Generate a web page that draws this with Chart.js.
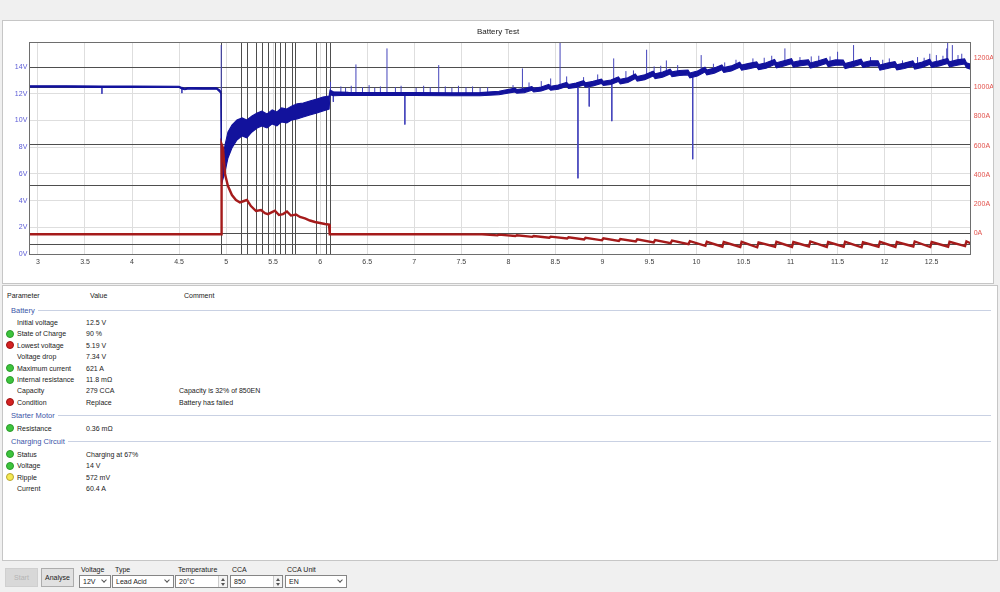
<!DOCTYPE html>
<html>
<head>
<meta charset="utf-8">
<title>Battery Test</title>
<script src="https://cdn.jsdelivr.net/npm/chart.js@4.4.1/dist/chart.umd.min.js"></script>
<style>
  body { margin: 0; width: 1000px; height: 592px; background: #f0f0f0; overflow: hidden; position: relative;
         font-family: "Liberation Sans", Arial, sans-serif; color: #222; }
  #plotPanel { position: absolute; left: 2px; top: 20px; width: 990px; height: 262px; background: #fff; border: 1px solid #c6c6c6; }
  #plotBox { position: absolute; left: 0; top: 0; width: 990px; height: 262px; }
  #results { position: absolute; left: 2px; top: 285px; width: 994px; height: 274px; background: #fff; border: 1px solid #c6c6c6; font-size: 7px; }
  .t { position: absolute; white-space: nowrap; line-height: 9px; }
  .sec { position: absolute; left: 8px; right: 6px; display: flex; align-items: center; color: #3a55a8; font-size: 7.5px; line-height: 9px; }
  .sec span.line { flex: 1; height: 1px; background: #c9d1e3; margin-left: 3px; }
  .dot { position: absolute; width: 6px; height: 6px; border-radius: 50%; }
  .dot.ok { background: #3dc43d; border: 1px solid #2b9a2b; }
  .dot.bad { background: #d42222; border: 1px solid #9e1212; }
  .dot.warn { background: #f4e852; border: 1px solid #b6a632; }
  .bar { position: absolute; font-size: 7px; line-height: 9px; white-space: nowrap; }
  .btn { position: absolute; top: 568px; height: 17px; border: 1px solid #adadad; background: #e1e1e1; font-size: 7px;
         line-height: 17px; text-align: center; }
  .btn.off { background: #d8d8d8; border-color: #cfcfcf; color: #b4b4b4; }
  .box { position: absolute; top: 575px; height: 11px; border: 1px solid #858585; background: #fff; font-size: 7px; line-height: 11px;
         padding-left: 3px; box-sizing: content-box; }
  .box .arr { position: absolute; right: 4px; top: 2px; width: 3px; height: 3px; border-right: 1px solid #555; border-bottom: 1px solid #555; transform: rotate(45deg); }
  .box .spin { position: absolute; right: 0; top: 0; width: 8px; height: 11px; border-left: 1px solid #ccc; background: #f4f4f4; }
  .spin i { position: absolute; left: 2px; width: 0; height: 0; border-left: 2px solid transparent; border-right: 2px solid transparent; }
  .spin i.up { top: 1.5px; border-bottom: 3px solid #555; }
  .spin i.dn { top: 6.5px; border-top: 3px solid #555; }
</style>
</head>
<body>
<div id="plotPanel"><div id="plotBox"><canvas id="batteryChart"></canvas></div></div>
<div id="results"></div>

<div class="btn off" style="left:5px;width:31px;">Start</div>
<div class="btn" style="left:41px;width:31px;">Analyse</div>
<div class="bar" style="left:81px;top:565px;">Voltage</div>
<div class="box" style="left:79px;width:27px;">12V<span class="arr"></span></div>
<div class="bar" style="left:115px;top:565px;">Type</div>
<div class="box" style="left:112px;width:57px;">Lead Acid<span class="arr"></span></div>
<div class="bar" style="left:178px;top:565px;">Temperature</div>
<div class="box" style="left:175px;width:48px;">20°C<span class="spin"><i class="up"></i><i class="dn"></i></span></div>
<div class="bar" style="left:232px;top:565px;">CCA</div>
<div class="box" style="left:230px;width:48px;">850<span class="spin"><i class="up"></i><i class="dn"></i></span></div>
<div class="bar" style="left:287px;top:565px;">CCA Unit</div>
<div class="box" style="left:285px;width:57px;">EN<span class="arr"></span></div>

<script>
// ---- time axis (s) and tick labels ----
const xTicks = [3, 3.5, 4, 4.5, 5, 5.5, 6, 6.5, 7, 7.5, 8, 8.5, 9, 9.5, 10, 10.5, 11, 11.5, 12, 12.5];
const voltTicks = [0, 2, 4, 6, 8, 10, 12, 14];
const ampTicks = [0, 200, 400, 600, 800, 1000, 1200];

// ---- battery voltage: centre of the trace and its noise band (V) ----
const vTime = [2.91, 3.30, 3.68, 4.00, 4.50, 4.53, 4.56, 4.60, 4.75, 4.90, 4.93, 4.945,
  4.951, 4.955, 4.988, 5.020, 5.062, 5.115, 5.170, 5.220, 5.275, 5.330, 5.380, 5.435, 5.490,
  5.540, 5.590, 5.645, 5.700, 5.755, 5.820, 5.890, 5.965, 6.030, 6.095, 6.105, 6.140, 6.300,
  6.600, 7.000, 7.400, 7.700, 7.900,
  8.07, 8.09, 8.17, 8.25, 8.27, 8.35, 8.43, 8.45, 8.53, 8.62, 8.64, 8.72, 8.80, 8.82, 8.90,
  8.99, 9.01, 9.09, 9.17, 9.19, 9.27, 9.35, 9.37, 9.45, 9.54, 9.56, 9.64, 9.72, 9.74, 9.82,
  9.91, 9.93, 10.01, 10.09, 10.11, 10.19, 10.27, 10.29, 10.37, 10.46, 10.48, 10.56,
  10.64, 10.66, 10.74, 10.83, 10.85, 10.93, 11.01, 11.03, 11.11, 11.19, 11.21, 11.29,
  11.38, 11.40, 11.48, 11.56, 11.58, 11.66, 11.75, 11.77, 11.85, 11.93, 11.95, 12.03,
  12.11, 12.13, 12.21, 12.30, 12.32, 12.40, 12.48, 12.50, 12.58, 12.67, 12.69, 12.77,
  12.85, 12.87, 12.92];
const vMid = [12.55, 12.55, 12.53, 12.53, 12.52, 12.42, 12.36, 12.42, 12.40, 12.40, 12.22, 12.10,
  5.35, 6.00, 7.15, 8.17, 8.80, 9.29, 9.52, 9.37, 9.74, 10.00, 10.15, 9.97, 10.27,
  10.12, 10.42, 10.34, 10.57, 10.68, 10.79, 10.94, 11.09, 11.24, 11.35, 12.10, 12.00, 12.00,
  11.98, 11.98, 11.96, 11.97, 12.06,
  12.28, 12.18, 12.24, 12.40, 12.28, 12.36, 12.55, 12.42, 12.50, 12.70, 12.55, 12.64, 12.82, 12.66, 12.76,
  12.94, 12.78, 12.86, 13.10, 12.92, 13.02, 13.32, 13.12, 13.24, 13.52, 13.32, 13.44, 13.66, 13.46, 13.56,
  13.60, 13.38, 13.52, 13.82, 13.60, 13.74, 13.98, 13.78, 13.90, 14.18, 13.96, 14.08,
  14.20, 14.00, 14.12, 14.38, 14.14, 14.28, 14.44, 14.18, 14.30, 14.36, 14.12, 14.26,
  14.46, 14.22, 14.34, 14.34, 14.08, 14.22, 14.40, 14.16, 14.28, 14.28, 13.96, 14.10,
  14.22, 13.98, 14.10, 14.28, 14.04, 14.18, 14.40, 14.16, 14.28, 14.46, 14.20, 14.34,
  14.42, 14.14, 14.02];
const vBand = [0.10, 0.10, 0.10, 0.10, 0.10, 0.12, 0.12, 0.10, 0.10, 0.10, 0.15, 0.15,
  0.10, 1.35, 2.00, 1.95, 1.72, 1.50, 1.35, 1.35, 1.20, 1.12, 1.12, 1.05, 1.05,
  1.05, 1.05, 1.05, 1.05, 1.13, 1.05, 1.05, 1.05, 1.05, 0.98, 0.35, 0.30, 0.22,
  0.22, 0.22, 0.22, 0.24, 0.26,
  0.28, 0.28, 0.30, 0.28, 0.28, 0.30, 0.30, 0.30, 0.32, 0.30, 0.30, 0.32, 0.32, 0.32, 0.34,
  0.32, 0.32, 0.34, 0.34, 0.34, 0.36, 0.34, 0.34, 0.36, 0.36, 0.36, 0.38, 0.36, 0.36, 0.38,
  0.36, 0.36, 0.38, 0.36, 0.36, 0.38, 0.36, 0.36, 0.38, 0.38, 0.38, 0.40,
  0.38, 0.38, 0.40, 0.38, 0.38, 0.40, 0.38, 0.38, 0.40, 0.38, 0.38, 0.40,
  0.38, 0.38, 0.40, 0.38, 0.38, 0.40, 0.38, 0.38, 0.40, 0.38, 0.38, 0.40,
  0.38, 0.38, 0.40, 0.38, 0.38, 0.40, 0.38, 0.38, 0.40, 0.38, 0.38, 0.40,
  0.38, 0.38, 0.38];

// ---- single-sample voltage spikes (V) ----
const spikeTime = [3.68, 4.53, 4.948, 6.11, 6.14, 6.22, 6.27, 6.33, 6.38, 6.45, 6.52, 6.58, 6.64,
  6.71, 6.80, 6.86, 6.90, 7.02, 7.10, 7.17, 7.26, 7.33, 7.40, 7.47, 7.55, 7.62, 7.70, 7.78,
  8.05, 8.15, 8.22, 8.35, 8.45, 8.55, 8.62, 8.74, 8.80, 8.86, 8.95, 9.10, 9.12, 9.25, 9.33, 9.47,
  9.55, 9.62, 9.68, 9.80, 9.96, 10.05, 10.18, 10.30, 10.42, 10.60, 10.72, 10.80, 10.94, 11.10, 11.22, 11.30,
  11.42, 11.50, 11.67, 11.85, 11.98, 12.05, 12.19, 12.35, 12.42, 12.48, 12.55, 12.62, 12.66, 12.67,
  12.72, 12.78, 12.82];
const spikeFrom = [12.50, 12.42, 12.20, 12.10, 12.00, 12.05, 12.05, 12.05, 12.05, 12.05, 12.05, 12.05, 12.05,
  12.05, 12.05, 12.05, 11.95, 12.05, 12.05, 12.05, 12.05, 12.05, 12.05, 12.05, 12.05, 12.05, 12.05, 12.08,
  12.25, 12.30, 12.40, 12.50, 12.60, 12.70, 12.75, 12.65, 12.85, 12.70, 12.95, 12.85, 13.00, 13.10, 13.25, 13.40,
  13.45, 13.55, 13.60, 13.55, 13.40, 13.65, 13.80, 13.95, 14.05, 14.10, 14.20, 14.30, 14.30, 14.30, 14.30, 14.35,
  14.35, 14.20, 14.30, 14.30, 14.10, 14.10, 14.10, 14.20, 14.25, 14.30, 14.20, 14.30, 14.30, 14.30,
  14.30, 14.30, 14.30];
const spikeTo = [12.00, 12.05, 15.65, 12.90, 11.40, 12.55, 12.45, 12.60, 14.20, 12.50, 12.65, 12.45, 12.55,
  15.40, 12.50, 12.60, 9.70, 12.45, 12.60, 12.50, 14.15, 12.55, 12.45, 12.60, 12.50, 12.55, 12.45, 12.50,
  12.65, 13.90, 12.85, 12.95, 13.15, 15.88, 13.30, 5.67, 13.25, 11.05, 13.45, 9.95, 14.65, 13.70, 13.75, 15.30,
  14.05, 14.10, 14.50, 14.15, 7.10, 14.90, 14.25, 14.35, 14.55, 14.65, 14.70, 14.85, 15.40, 14.75, 14.80, 14.85,
  14.80, 15.15, 15.65, 14.75, 14.55, 14.65, 14.50, 14.75, 14.70, 15.00, 14.90, 14.85, 15.40, 15.88,
  15.65, 14.90, 15.00];

// ---- battery current (A) ----
const aTime = [2.91, 4.950, 4.952, 4.967, 4.988, 5.020, 5.062, 5.105, 5.147, 5.190, 5.222, 5.264,
  5.318, 5.371, 5.413, 5.445, 5.488, 5.519, 5.562, 5.605, 5.647, 5.689, 5.743, 5.785, 5.838,
  5.891, 5.945, 5.998, 6.051, 6.094, 6.102, 7.000, 7.700,
  7.72, 7.885, 7.90, 8.075, 8.09, 8.255, 8.27, 8.435, 8.45, 8.625, 8.64, 8.805, 8.82, 8.995,
  9.01, 9.175, 9.19, 9.355, 9.37, 9.545, 9.56, 9.725, 9.74, 9.915, 9.93, 10.095, 10.11, 10.275,
  10.29, 10.465, 10.48, 10.645, 10.66, 10.835, 10.85, 11.015, 11.03, 11.195, 11.21, 11.385,
  11.40, 11.565, 11.58, 11.755, 11.77, 11.935, 11.95, 12.115, 12.13, 12.305, 12.32, 12.485,
  12.50, 12.675, 12.69, 12.855, 12.87, 12.92];
const aVal = [-8, -8, 610, 584, 405, 323, 261, 227, 210, 220, 227, 185,
  151, 158, 137, 130, 144, 154, 124, 130, 148, 120, 127, 110, 100,
  86, 76, 69, 62, 58, -8, -8, -9,
  -8, -16, -11, -20, -15, -26, -20, -32, -25, -38, -29, -44, -33, -50,
  -37, -54, -41, -58, -44, -64, -48, -70, -52, -76, -56, -88, -60, -94,
  -62, -96, -60, -98, -64, -94, -60, -96, -62, -92, -58, -96,
  -62, -94, -60, -98, -64, -94, -60, -96, -62, -92, -58, -96,
  -62, -94, -60, -90, -58, -72];

// ---- cursor markers and reference levels ----
const markerTimes = [4.951, 5.155, 5.220, 5.315, 5.381, 5.447, 5.516, 5.575, 5.628, 5.700, 5.737, 5.955, 6.062, 6.104];
const levelVolts = [14, 12.5, 5.19];
const levelAmps = [612, 0, -72];

// ---- result table ----
const sectionNames = ["Battery", "Starter Motor", "Charging Circuit"];
const rowSection = [0, 0, 0, 0, 0, 0, 0, 0, 1, 2, 2, 2, 2];
const rowNames = ["Initial voltage", "State of Charge", "Lowest voltage", "Voltage drop", "Maximum current",
  "Internal resistance", "Capacity", "Condition", "Resistance", "Status", "Voltage", "Ripple", "Current"];
const rowValues = ["12.5 V", "90 %", "5.19 V", "7.34 V", "621 A", "11.8 mΩ", "279 CCA", "Replace",
  "0.36 mΩ", "Charging at 67%", "14 V", "572 mV", "60.4 A"];
const rowComments = ["", "", "", "", "", "", "Capacity is 32% of 850EN", "Battery has failed",
  "", "", "", "", ""];
const rowStatus = ["", "ok", "bad", "", "ok", "ok", "", "bad", "ok", "ok", "ok", "warn", ""];

const FONT = '"Liberation Sans", Arial, sans-serif';

function buildTable() {
  const box = document.getElementById("results");
  // header row centred ~10px below the panel top
  let html = '<div class="t" style="left:4px;top:5px;">Parameter</div>' +
    '<div class="t" style="left:87px;top:5px;">Value</div>' +
    '<div class="t" style="left:181px;top:5px;">Comment</div>';
  let y = 24; // centre of the first section line inside the panel
  let last = -1;
  rowNames.forEach((name, i) => {
    if (rowSection[i] !== last) {
      if (last !== -1) y += 13.5;
      last = rowSection[i];
      html += `<div class="sec" style="top:${y - 4.5}px;"><span>${sectionNames[last]}</span><span class="line"></span></div>`;
      y += 12.5;
    } else {
      y += 11.4;
    }
    if (rowStatus[i]) html += `<div class="dot ${rowStatus[i]}" style="left:3px;top:${y - 4}px;"></div>`;
    html += `<div class="t" style="left:14px;top:${y - 4.5}px;">${name}</div>`;
    html += `<div class="t" style="left:83px;top:${y - 4.5}px;">${rowValues[i]}</div>`;
    if (rowComments[i]) html += `<div class="t" style="left:176px;top:${y - 4.5}px;">${rowComments[i]}</div>`;
  });
  box.innerHTML = html;
}
buildTable();

// cursor lines, reference levels and the plot frame
const guides = {
  id: "guides",
  beforeDatasetsDraw(chart) {
    const { ctx, chartArea: a, scales } = chart;
    ctx.save();
    ctx.strokeStyle = "#4e4e4e";
    ctx.lineWidth = 1;
    ctx.beginPath();
    markerTimes.forEach((t) => {
      const x = Math.round(scales.x.getPixelForValue(t)) + 0.5;
      ctx.moveTo(x, a.top);
      ctx.lineTo(x, a.bottom);
    });
    const hline = (y) => {
      y = Math.round(y) + 0.5;
      ctx.moveTo(a.left, y);
      ctx.lineTo(a.right, y);
    };
    levelVolts.forEach((v) => hline(scales.yV.getPixelForValue(v)));
    levelAmps.forEach((v) => hline(scales.yA.getPixelForValue(v)));
    ctx.stroke();
    ctx.restore();
  },
  afterDraw(chart) {
    const { ctx, chartArea: a } = chart;
    ctx.save();
    ctx.strokeStyle = "#6e6e6e";
    ctx.lineWidth = 1;
    ctx.strokeRect(Math.round(a.left) + 0.5, Math.round(a.top) + 0.5, Math.round(a.right - a.left), Math.round(a.bottom - a.top));
    ctx.restore();
  },
};

const voltHigh = vTime.map((t, i) => ({ x: t, y: vMid[i] + vBand[i] / 2 }));
const voltLow = vTime.map((t, i) => ({ x: t, y: vMid[i] - vBand[i] / 2 }));
const spikePts = [];
spikeTime.forEach((t, i) => {
  spikePts.push({ x: t, y: spikeFrom[i] }, { x: t, y: spikeTo[i] }, { x: t, y: null });
});
const currentPts = aTime.map((t, i) => ({ x: t, y: aVal[i] }));

const NAVY = "#12129c";

const ctx = document.getElementById("batteryChart").getContext("2d");
window.myChart = new Chart(ctx, {
  type: "line",
  data: {
    datasets: [
      { label: "Current", data: currentPts, yAxisID: "yA", borderColor: "#a51b1b", borderWidth: 2.4, pointRadius: 0, tension: 0, fill: false },
      { label: "Voltage high", data: voltHigh, yAxisID: "yV", borderColor: NAVY, borderWidth: 1.1, pointRadius: 0, fill: false },
      { label: "Voltage low", data: voltLow, yAxisID: "yV", borderColor: NAVY, borderWidth: 1.1, pointRadius: 0, fill: "-1", backgroundColor: NAVY },
      { label: "Spikes", data: spikePts, yAxisID: "yV", borderColor: "#4444bb", borderWidth: 1, pointRadius: 0, spanGaps: false, fill: false },
    ],
  },
  options: {
    responsive: true,
    maintainAspectRatio: false,
    animation: false,
    events: [],
    layout: { padding: 0 },
    plugins: {
      legend: { display: false },
      tooltip: { enabled: false },
      title: { display: true, text: "Battery Test", color: "#222", font: { size: 8, family: FONT, weight: "normal" }, padding: { top: 6, bottom: 5.4 } },
    },
    scales: {
      x: {
        type: "linear", min: 2.908, max: 12.915,
        afterBuildTicks: (s) => { s.ticks = xTicks.map((v) => ({ value: v })); },
        afterFit: (s) => { s.height = 29; },
        grid: { color: "#dedede", drawTicks: false },
        border: { display: false },
        ticks: { padding: 4, color: "#404040", font: { size: 7, family: FONT }, autoSkip: false, maxRotation: 0, callback: (v) => String(v) },
      },
      yV: {
        type: "linear", position: "left", min: 0, max: 15.88,
        afterBuildTicks: (s) => { s.ticks = voltTicks.map((v) => ({ value: v })); },
        afterFit: (s) => { s.width = 26.3; },
        grid: { color: "#dedede", drawTicks: false },
        border: { display: false },
        ticks: { padding: 2, color: "#5b5bd6", font: { size: 7, family: FONT }, callback: (v) => v + "V" },
      },
      yA: {
        type: "linear", position: "right", min: -144, max: 1312,
        afterBuildTicks: (s) => { s.ticks = ampTicks.map((v) => ({ value: v })); },
        afterFit: (s) => { s.width = 22.3; },
        grid: { display: false, drawTicks: false },
        border: { display: false },
        ticks: { padding: 3, color: "#e2524c", font: { size: 7, family: FONT }, callback: (v) => v + "A" },
      },
    },
  },
  plugins: [guides],
});
</script>
</body>
</html>
